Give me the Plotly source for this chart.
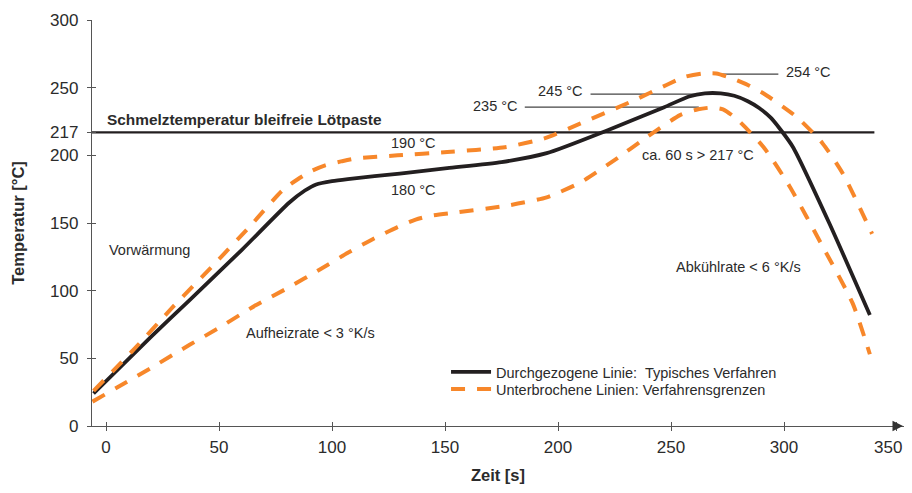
import plotly.graph_objects as go

# ---- data ----
solid_x = [-5.5, 20, 37, 60, 81, 88, 93, 100, 107, 130, 151, 175, 195, 222, 247, 258, 265, 272, 278, 284, 289, 294, 298, 304, 320, 338]
solid_y = [24, 66, 93, 130, 165, 174, 178.5, 181, 182.5, 186.5, 190.5, 195, 201.6, 218.6, 235.6, 243.5, 245.8, 245.8, 244, 240, 235, 228, 220, 206, 150, 82]

upper_x = [-5.5, 12, 29.6, 47, 63.4, 78, 85, 91, 97, 104, 110, 129, 151, 176.5, 194, 210, 233.6, 248, 256, 264, 270, 276, 284, 291, 305.5, 317, 326, 339]
upper_y = [26, 56, 88, 118, 147, 174, 182.5, 188.5, 192.6, 195.5, 197.6, 200, 202.5, 206, 212.5, 223.6, 240.6, 252, 258, 260.5, 260.5, 257.5, 252, 245.7, 228.5, 209, 186.6, 142]

lower_x = [-6, 7.6, 20, 37, 50, 66, 80, 95, 107, 118, 129, 137, 144, 156, 178, 195, 210, 225, 239.4, 254, 262, 268, 273, 279, 291, 302.5, 317, 330.4, 338]
lower_y = [18, 31, 43, 60, 72.5, 89, 101.6, 116, 128, 138, 147, 152.5, 155.5, 158, 163, 169, 180, 196.5, 213.6, 229.7, 234, 235.3, 234, 227, 206, 177, 133, 90.6, 53]

melt_temp = 217
melt_x = [-6.2, 340]

x_ticks = [0, 50, 100, 150, 200, 250, 300, 350]
y_ticks = [0, 50, 100, 150, 200, 217, 250, 300]
x_last_label = "350"  # drawn at the right edge so it is not cut off

# peak pointer lines: label, x_start, x_end, y
peak_labels = ["254 °C", "245 °C", "235 °C"]
peak_x0 = [269, 214.4, 185.3]
peak_x1 = [297.5, 262.8, 262.3]
peak_y = [260, 245.2, 235.6]

name_solid = "Durchgezogene Linie:  Typisches Verfahren"
name_dash = "Unterbrochene Linien: Verfahrensgrenzen"

ORANGE = "#F7872A"
BLACK = "#231F20"
TXT = "#2b2b2b"
FONT = "Liberation Sans, Arial, sans-serif"

X_RANGE = [-6.2, 353.1]
Y_RANGE = [0, 300]

fig = go.Figure()

# melt temperature line
fig.add_trace(go.Scatter(x=melt_x, y=[melt_temp] * len(melt_x), mode="lines",
                         line=dict(color=BLACK, width=2.4), showlegend=False, hoverinfo="skip"))

# pointer lines
for lab, a, b, yv in zip(peak_labels, peak_x0, peak_x1, peak_y):
    fig.add_trace(go.Scatter(x=[a, b], y=[yv, yv], mode="lines",
                             line=dict(color="#444444", width=1.1), showlegend=False, hoverinfo="skip"))

fig.add_trace(go.Scatter(x=solid_x, y=solid_y, mode="lines", name=name_solid, legend="legend",
                         line=dict(color=BLACK, width=3.8, shape="spline", smoothing=0.6)))
fig.add_trace(go.Scatter(x=upper_x, y=upper_y, mode="lines", name=name_dash, legend="legend2",
                         line=dict(color=ORANGE, width=4, dash="14px,12px", shape="spline", smoothing=0.6)))
fig.add_trace(go.Scatter(x=lower_x, y=lower_y, mode="lines", name=name_dash, showlegend=False,
                         line=dict(color=ORANGE, width=4, dash="14px,12px", shape="spline", smoothing=0.6)))

# dummy trace for crossing tick overlay axes
fig.add_trace(go.Scatter(x=[None], y=[None], xaxis="x2", yaxis="y2", showlegend=False, hoverinfo="skip"))

def ann(text, x, y, xanchor="left", size=14.5, bold=False):
    fig.add_annotation(x=x, y=y, text=f"<b>{text}</b>" if bold else text, showarrow=False,
                       xanchor=xanchor, yanchor="middle",
                       font=dict(family=FONT, size=size, color=TXT))

ann("Schmelztemperatur bleifreie Lötpaste", -0.6, 226.7, size=15.4, bold=True)
ann("190 °C", 136, 209, xanchor="center")
ann("180 °C", 136, 174.3, xanchor="center")
ann("ca. 60 s > 217 °C", 262, 200, xanchor="center")
ann("Vorwärmung", 0.4, 130)
ann("Aufheizrate < 3 °K/s", 61.2, 68.7)
ann("Abkühlrate < 6 °K/s", 251.3, 117.4)
ann(peak_labels[0], 300.2, 261.4)
ann(peak_labels[1], 212.1, 247.4, xanchor="right")
ann(peak_labels[2], 183.1, 236.3, xanchor="right")

# last x tick label, right-aligned at the plot edge
fig.add_annotation(x=1, y=0, xref="paper", yref="paper", xanchor="right", yanchor="top", yshift=-10,
                   text=x_last_label, showarrow=False, font=dict(family=FONT, size=17, color=TXT))

# arrow head at end of x axis
fig.add_annotation(x=1, y=0, xref="paper", yref="paper", ax=-12, ay=0, text="",
                   showarrow=True, arrowhead=2, arrowsize=1.5, arrowwidth=1.4, arrowcolor="#333333")

axis_common = dict(showgrid=False, zeroline=False, tickcolor="#555555", ticklen=4, tickwidth=1.2,
                   automargin=False)

legend_common = dict(xanchor="left", yanchor="top", bgcolor="rgba(0,0,0,0)",
                     font=dict(family=FONT, size=14.5, color=TXT), itemwidth=40)

x_ticktext = [str(v) if v != x_ticks[-1] else "" for v in x_ticks]

# the page body adds an 8px offset; size the figure so the page does not scroll
fig.update_layout(
    width=896, height=477,
    margin=dict(l=84, r=0, t=12, b=59),
    paper_bgcolor="white", plot_bgcolor="white",
    font=dict(family=FONT, color=TXT),
    xaxis=dict(range=X_RANGE, tickvals=x_ticks, ticktext=x_ticktext, ticks="outside", showline=True,
               linecolor="#555555", linewidth=1.3, tickfont=dict(size=17, color=TXT), ticklabelstandoff=1,
               title=dict(text="<b>Zeit [s]</b>", font=dict(size=16.5, color=TXT), standoff=13),
               **axis_common),
    yaxis=dict(range=Y_RANGE, tickvals=y_ticks, ticks="outside", showline=True, linecolor="#555555",
               linewidth=1.3, tickfont=dict(size=17, color=TXT), ticklabelstandoff=5,
               ticklabeloverflow="allow",
               title=dict(text="<b>Temperatur [°C]</b>", font=dict(size=16.5, color=TXT), standoff=21),
               **axis_common),
    xaxis2=dict(range=X_RANGE, tickvals=x_ticks, ticks="inside", overlaying="x", anchor="y", side="bottom",
                showticklabels=False, showline=False, **axis_common),
    yaxis2=dict(range=Y_RANGE, tickvals=y_ticks, ticks="inside", overlaying="y", anchor="x", side="left",
                showticklabels=False, showline=False, **axis_common),
    legend=dict(x=0.436, y=0.1724, **legend_common),
    legend2=dict(x=0.436, y=0.1305, **legend_common),
    showlegend=True,
)

fig.write_html("out.html")
